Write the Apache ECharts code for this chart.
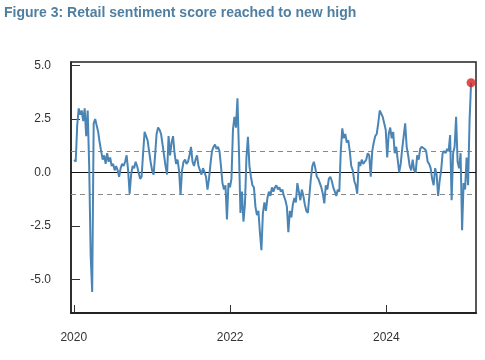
<!DOCTYPE html>
<html>
<head>
<meta charset="utf-8">
<script src="https://cdn.jsdelivr.net/npm/echarts@6/dist/echarts.min.js"></script>
<style>
html,body{margin:0;padding:0;background:#fff;}
#chart{width:485px;height:360px;}
</style>
</head>
<body>
<div id="chart"></div>
<script>
// Weekly retail sentiment score, first observation week of 2020-01-03
const startDate = '2020-01-03';
const sentiment = [
  0.6, 0.5, 2.2, 3.0, 2.7, 2.9, 2.4, 3.0, 1.7, 2.9,
  0.3, -3.9, -5.6, 2.3, 2.5, 2.2, 1.9, 1.4, 1.0, 0.6,
  0.8, 0.4, 0.9, 0.5, 0.7, 0.3, 0.4, 0.1, 0.3, 0.1,
  -0.2, 0.2, 0.4, 0.3, 0.5, 0.8, 0.1, -1.0, -0.1, 0.3,
  0.2, 0.5, 0.3, 0.0, -0.3, -0.2, 0.9, 1.9, 1.7, 1.5,
  1.0, 0.5, 0.1, -0.1, 0.8, 1.8, 2.1, 2.0, 1.8, 1.3,
  0.8, 0.3, -0.1, 1.7, 0.8, 1.4, 1.7, 0.9, 0.4, 0.6,
  0.1, -1.05, 0.1, 0.5, 0.6, 0.4, 0.5, 0.8, 1.2, 0.5,
  0.3, 0.6, 0.8, 0.3, 0.1, -0.1, 0.2, 0.0, -0.2, -0.8,
  -0.3, 0.4, 1.0, 1.2, 1.3, 1.1, 1.2, 1.0, 0.3, -0.5,
  -0.8, -0.6, -2.2, -0.5, -0.7, -0.3, 2.0, 2.6, 2.1, 3.47,
  1.0, -1.9, -0.9, -2.3, -1.5, 0.7, 1.67, 0.3, -0.2, -0.6,
  -0.7, -1.6, -2.0, -1.8, -2.8, -3.64, -1.9, -1.4, -1.8, -1.2,
  -0.9, -1.1, -0.7, -0.9, -0.7, -0.6, -0.8, -0.7, -0.9, -0.8,
  -1.1, -1.3, -1.6, -2.8, -1.8, -2.1, -1.5, -1.2, -1.4, -0.5,
  -0.9, -1.3, -0.8, -1.1, -1.5, -1.8, -1.9, -1.9, -0.3, 0.3,
  0.5, 0.2, -0.2, -0.3, -0.5, -0.7, -1.0, -1.45, -0.6, -0.8,
  -0.3, -0.2, -0.4, -0.7, -0.9, -1.1, -0.8, -0.9, 1.0, 2.06,
  1.6, 1.8, 1.4, 1.5, 1.0, 0.3, 0.1, -0.4, -0.6, -1.0,
  0.5, 0.3, 0.6, 0.4, 0.5, 0.6, 0.9, 0.8, -0.2, 1.0,
  1.4, 1.7, 1.8, 2.3, 2.9, 2.9, 2.6, 2.3, 2.0, 0.7,
  1.8, 2.1, 1.6, 1.9, 0.9, 1.2, 0.6, 0.0, 0.4, 1.1,
  1.7, 2.3, 1.2, 0.8, 0.3, 0.1, 0.6, 0.1, 0.0, 0.8,
  0.6, 1.1, 1.2, 1.25, 1.1, 1.0, 0.5, 0.4, 0.2, -0.3,
  -0.6, 0.2, -0.1, -1.1, -0.4, 0.1, 0.9, 1.0, 0.9, 1.1,
  1.0, 1.75, -1.3, 0.9, 1.2, 2.6, 0.5, 0.2, 0.9, -2.7,
  -0.5, -0.8, 0.7, -0.6, 2.45, 4.2
];
const xTickDates = ['2020-01-01', '2022-01-01', '2024-01-01'];
const yTickValues = [-5, -2.5, 0, 2.5, 5];
const refLines = [1, -1];
const titleText = 'Figure 3: Retail sentiment score reached to new high';

const DAY = 86400000;
const t0 = Date.parse(startDate + 'T00:00:00Z');
const seriesData = sentiment.map((v, i) => [t0 + i * 7 * DAY, v]);
const lastPoint = seriesData[seriesData.length - 1];
const xTicks = xTickDates.map(d => Date.parse(d + 'T00:00:00Z'));

const chart = echarts.init(document.getElementById('chart'), null, {renderer: 'canvas'});
chart.setOption({
  animation: false,
  backgroundColor: '#ffffff',
  graphic: [{
    type: 'text',
    left: 4, top: 5,
    scaleX: 0.935,
    style: {
      text: titleText,
      font: 'bold 15px "Liberation Sans", Arial, sans-serif',
      fill: '#4f7fa0'
    }
  }],
  grid: {
    left: 71, top: 62, right: 9, bottom: 47,
    show: true, borderColor: '#222', borderWidth: 1.5, backgroundColor: 'transparent'
  },
  xAxis: {
    type: 'value',
    min: Date.parse('2019-12-19T00:00:00Z'),
    max: Date.parse('2025-02-23T00:00:00Z'),
    axisLine: {show: true, onZero: false, lineStyle: {color: '#222', width: 2}},
    axisTick: {show: true, inside: true, length: 8, customValues: xTicks, lineStyle: {color: '#333', width: 1}},
    axisLabel: {
      customValues: xTicks, margin: 19,
      formatter: v => String(new Date(v).getUTCFullYear()),
      fontFamily: 'Arial, "Liberation Sans", sans-serif', fontSize: 12, color: '#333'
    },
    splitLine: {show: false}
  },
  yAxis: {
    type: 'value',
    min: -6.58, max: 5.17,
    axisLine: {show: true, onZero: false, lineStyle: {color: '#222', width: 1.5}},
    axisTick: {show: true, inside: true, length: 9, customValues: yTickValues, lineStyle: {color: '#333', width: 1}},
    axisLabel: {
      customValues: yTickValues, margin: 20,
      formatter: v => v.toFixed(1),
      fontFamily: 'Arial, "Liberation Sans", sans-serif', fontSize: 12, color: '#333'
    },
    splitLine: {show: false}
  },
  series: [
    {
      type: 'line',
      data: seriesData,
      showSymbol: false,
      symbol: 'none',
      lineStyle: {color: '#4a85b5', width: 2},
      z: 3,
      markLine: {
        silent: true, symbol: 'none', label: {show: false},
        data: [
          {yAxis: 0, lineStyle: {color: '#111', type: 'solid', width: 1.2}},
          ...refLines.map(v => ({yAxis: v, lineStyle: {color: '#888', type: [5, 4], width: 1}}))
        ],
        z: 2
      }
    },
    {
      type: 'scatter',
      data: [lastPoint],
      symbolSize: 9,
      itemStyle: {color: '#d32222'},
      z: 5
    }
  ]
});
</script>
</body>
</html>
